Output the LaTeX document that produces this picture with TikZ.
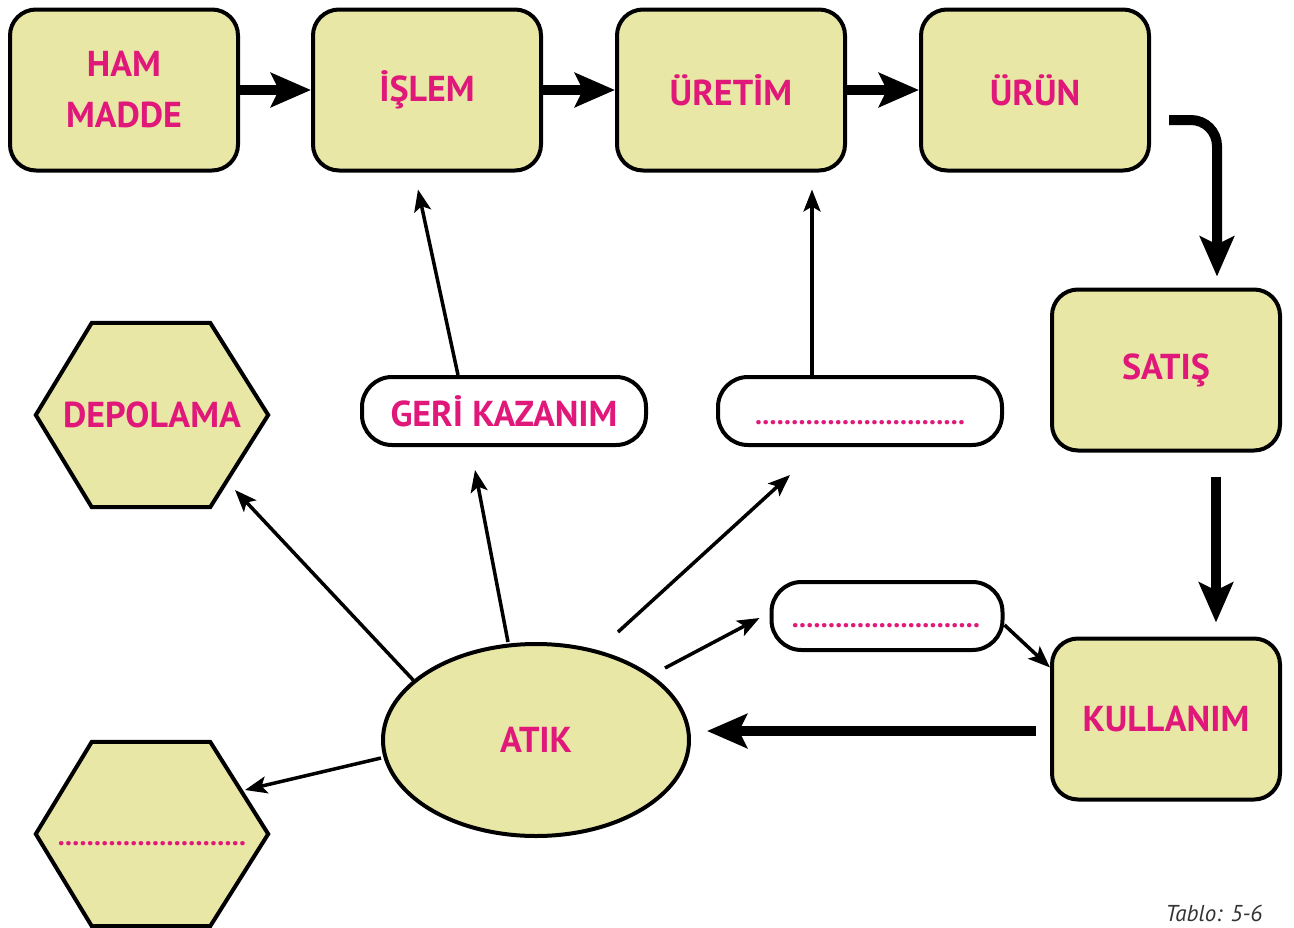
\documentclass[tikz,border=0pt]{standalone}
\usepackage{fontspec}
\setmainfont{PT Sans}
\usetikzlibrary{arrows.meta,shapes.geometric,backgrounds}
\definecolor{boxfill}{HTML}{E8E7A6}
\definecolor{mag}{HTML}{E0187A}
\definecolor{capgray}{HTML}{333333}
\tikzset{
  lbl/.style={text=mag,font=\bfseries\fontsize{36}{51}\selectfont,align=center},
  box/.style={lbl,draw=black,line width=4pt,fill=boxfill,rounded corners=26pt,minimum width=228pt,minimum height=161pt},
  pill/.style={lbl,draw=black,line width=4pt,fill=white,rounded corners=30pt,minimum width=284pt,minimum height=68pt},
  hexbox/.style={lbl,minimum width=232pt,minimum height=184pt,inner sep=0pt},
  hexline/.style={draw=black,line width=4pt,fill=boxfill,line join=miter},
  bigarrow/.style={line width=10pt,-{Stealth[length=40pt,width=34pt,inset=8pt]}},
  thinarrow/.style={line width=3.5pt,-{Stealth[length=22pt,width=17pt,inset=5pt]}},
  dots/.style={text=mag,font=\bfseries\fontsize{28}{34}\selectfont}
}
\begin{document}
\begin{tikzpicture}[x=1pt,y=-1pt]
\useasboundingbox (0,0) rectangle (1294,927);
% top row
\node[box] (ham) at (124,90) {HAM\\MADDE};
\node[box] (islem) at (427,90) {İŞLEM};
\node[box] (uretim) at (731,90) {ÜRETİM};
\node[box] (urun) at (1035,90) {ÜRÜN};
% right column
\node[box] (satis) at (1166,370) {SATIŞ};
\node[box] (kullanim) at (1166,719) {KULLANIM};
% centre
\node[lbl,ellipse,draw=black,line width=4pt,fill=boxfill,minimum width=306pt,minimum height=192pt] (atik) at (536,740) {ATIK};
\node[pill] (geri) at (504,411) {GERİ KAZANIM};
\node[pill] (bos1) at (860,411) {\vphantom{Ag}};
\node[dots,anchor=base] (bos1d) at (860,424) {.............................};
\node[pill,minimum width=231pt] (bos2) at (887,616) {\vphantom{Ag}};
\node[dots,anchor=base] (bos2d) at (886,627) {..........................};
% hexagons
\node[hexbox] (depo) at (152,415) {DEPOLAMA};
\node[hexbox] (hexb) at (152,834) {};
\node[dots,anchor=base] (hexbd) at (152,845) {..........................};
\begin{pgfonlayer}{background}
\foreach \h in {depo,hexb}{
  \path[hexline] (\h.west) -- ([xshift=56pt]\h.north west) -- ([xshift=-58pt]\h.north east)
    -- (\h.east) -- ([xshift=-58pt]\h.south east) -- ([xshift=56pt]\h.south west) -- cycle;
}
\end{pgfonlayer}
% caption
\node[text=capgray,font=\itshape\fontsize{23}{26}\selectfont] (cap) at (1214,913) {Tablo: 5-6};
% main flow
\draw[bigarrow] (ham.east) -- (islem.west);
\draw[bigarrow] (islem.east) -- (uretim.west);
\draw[bigarrow] (uretim.east) -- (urun.west);
\draw[bigarrow,rounded corners=26pt] ([xshift=18pt,yshift=-30pt]urun.east) -| ([xshift=51pt,yshift=11pt]satis.north);
\draw[bigarrow] ([xshift=50pt,yshift=-24pt]satis.south) -- ([xshift=50pt,yshift=14pt]kullanim.north);
\draw[bigarrow] ([xshift=-14pt,yshift=-12pt]kullanim.west) -- ([xshift=16pt,yshift=9pt]atik.east);
% thin arrows
\draw[thinarrow] (atik.154) -- ([xshift=83pt,yshift=-75pt]depo.center);
\draw[thinarrow] ([xshift=-28pt]atik.north) -- ([xshift=-29pt,yshift=-23pt]geri.south);
\draw[thinarrow] ([xshift=-46pt]geri.north) -- ([xshift=-9pt,yshift=-17pt]islem.south);
\draw[thinarrow] ([xshift=82pt,yshift=108pt]atik.center) -- ([xshift=-70pt,yshift=-64pt]bos1.center);
\draw[thinarrow] ([xshift=-48pt]bos1.north) -- ([xshift=81pt,yshift=-17pt]uretim.south);
\draw[thinarrow] ([xshift=129pt,yshift=72pt]atik.center) -- ([xshift=-10pt,yshift=-2pt]bos2.west);
\draw[thinarrow] ([yshift=-9pt]bos2.east) -- ([yshift=-31pt]kullanim.north west);
\draw[thinarrow] ([yshift=-18pt]atik.west) -- ([xshift=93pt,yshift=44pt]hexb.center);
\end{tikzpicture}
\end{document}
